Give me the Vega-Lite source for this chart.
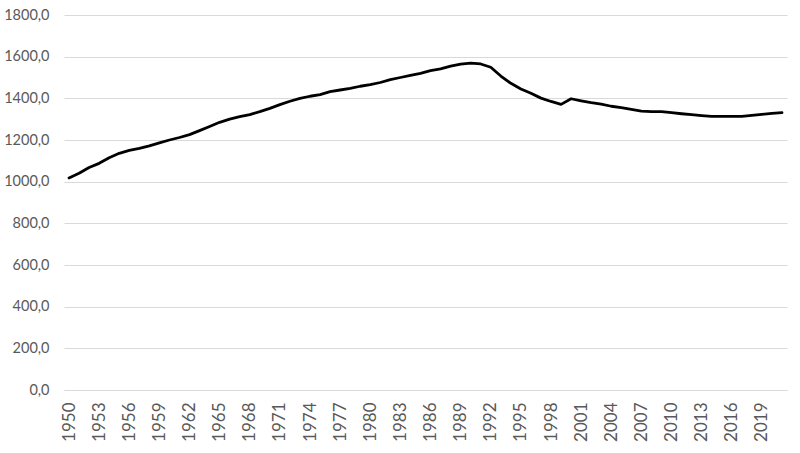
{
  "$schema": "https://vega.github.io/schema/vega-lite/v6.json",
  "width": 723,
  "height": 375,
  "autosize": "none",
  "padding": {"left": 64, "top": 15, "right": 13, "bottom": 63},
  "background": "white",
  "data": {"values": [
    {"year": 1950, "value": 1018}, {"year": 1951, "value": 1040}, {"year": 1952, "value": 1068},
    {"year": 1953, "value": 1088}, {"year": 1954, "value": 1115}, {"year": 1955, "value": 1136},
    {"year": 1956, "value": 1150}, {"year": 1957, "value": 1160}, {"year": 1958, "value": 1172},
    {"year": 1959, "value": 1186}, {"year": 1960, "value": 1200}, {"year": 1961, "value": 1212},
    {"year": 1962, "value": 1226}, {"year": 1963, "value": 1245}, {"year": 1964, "value": 1265},
    {"year": 1965, "value": 1285}, {"year": 1966, "value": 1300}, {"year": 1967, "value": 1312},
    {"year": 1968, "value": 1322}, {"year": 1969, "value": 1336}, {"year": 1970, "value": 1352},
    {"year": 1971, "value": 1370}, {"year": 1972, "value": 1386}, {"year": 1973, "value": 1400},
    {"year": 1974, "value": 1410}, {"year": 1975, "value": 1418}, {"year": 1976, "value": 1432},
    {"year": 1977, "value": 1440}, {"year": 1978, "value": 1448}, {"year": 1979, "value": 1458},
    {"year": 1980, "value": 1466}, {"year": 1981, "value": 1476}, {"year": 1982, "value": 1490},
    {"year": 1983, "value": 1500}, {"year": 1984, "value": 1510}, {"year": 1985, "value": 1520},
    {"year": 1986, "value": 1533}, {"year": 1987, "value": 1541}, {"year": 1988, "value": 1555},
    {"year": 1989, "value": 1564}, {"year": 1990, "value": 1569}, {"year": 1991, "value": 1565},
    {"year": 1992, "value": 1549}, {"year": 1993, "value": 1507}, {"year": 1994, "value": 1472},
    {"year": 1995, "value": 1445}, {"year": 1996, "value": 1424}, {"year": 1997, "value": 1401},
    {"year": 1998, "value": 1385}, {"year": 1999, "value": 1371}, {"year": 2000, "value": 1398},
    {"year": 2001, "value": 1388}, {"year": 2002, "value": 1379}, {"year": 2003, "value": 1372},
    {"year": 2004, "value": 1362}, {"year": 2005, "value": 1355}, {"year": 2006, "value": 1347},
    {"year": 2007, "value": 1339}, {"year": 2008, "value": 1336}, {"year": 2009, "value": 1336},
    {"year": 2010, "value": 1331}, {"year": 2011, "value": 1326}, {"year": 2012, "value": 1322},
    {"year": 2013, "value": 1317}, {"year": 2014, "value": 1313}, {"year": 2015, "value": 1313},
    {"year": 2016, "value": 1313}, {"year": 2017, "value": 1313}, {"year": 2018, "value": 1318},
    {"year": 2019, "value": 1323}, {"year": 2020, "value": 1328}, {"year": 2021, "value": 1331}
  ]},
  "mark": {"type": "line", "color": "black", "strokeWidth": 2.8, "strokeJoin": "round", "strokeCap": "round"},
  "encoding": {
    "x": {
      "field": "year", "type": "quantitative",
      "scale": {"domain": [1949.5, 2021.5], "nice": false, "zero": false},
      "axis": {
        "values": [1950,1953,1956,1959,1962,1965,1968,1971,1974,1977,1980,1983,1986,1989,1992,1995,1998,2001,2004,2007,2010,2013,2016,2019],
        "format": "d", "labelAngle": -90, "labelAlign": "right", "labelBaseline": "middle",
        "grid": false, "ticks": false, "domain": true, "domainColor": "#d9d9d9", "domainWidth": 1,
        "labelPadding": 12, "labelFont": "Lato", "labelFontSize": 17, "labelColor": "#595959",
        "title": null, "labelOverlap": false
      }
    },
    "y": {
      "field": "value", "type": "quantitative",
      "scale": {"domain": [0, 1800], "nice": false},
      "axis": {
        "values": [0,200,400,600,800,1000,1200,1400,1600,1800],
        "labelExpr": "replace(format(datum.value, '.1f'), '.', ',')",
        "grid": true, "gridColor": "#d9d9d9", "gridWidth": 1,
        "ticks": false, "domain": false, "labelPadding": 15,
        "labelFont": "Lato", "labelFontSize": 14.5, "labelColor": "#595959",
        "title": null
      }
    }
  },
  "config": {"view": {"stroke": null}}
}
